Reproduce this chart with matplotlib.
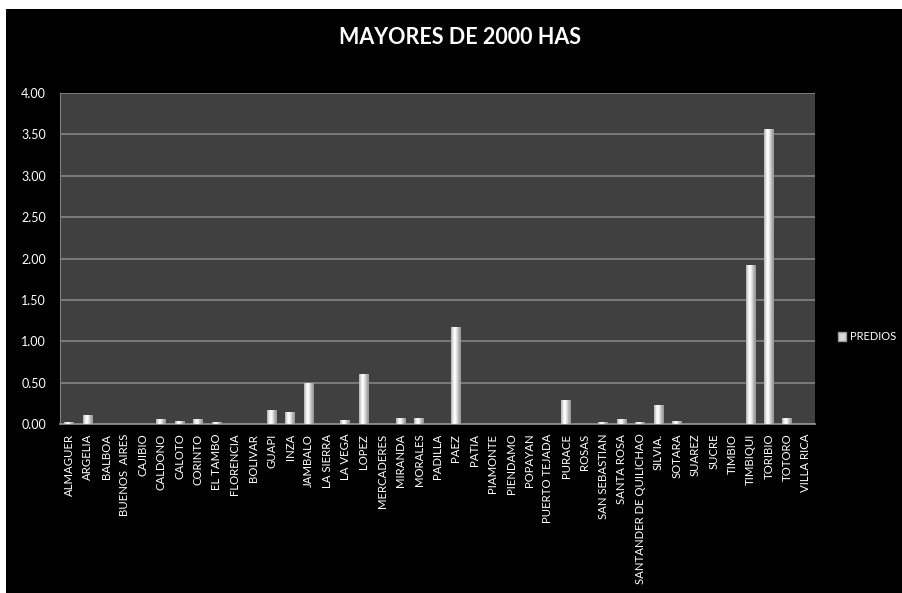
import numpy as np
import matplotlib
matplotlib.use('Agg')
import matplotlib.pyplot as plt
from matplotlib.patches import Rectangle, Patch

plt.rcParams['font.family'] = ['Lato', 'DejaVu Sans']

# data
municipios = ['ALMAGUER', 'ARGELIA', 'BALBOA', 'BUENOS  AIRES', 'CAJIBIO', 'CALDONO', 'CALOTO',
              'CORINTO', 'EL TAMBO', 'FLORENCIA', 'BOLIVAR', 'GUAPI', 'INZA', 'JAMBALO',
              'LA SIERRA', 'LA VEGA', 'LOPEZ', 'MERCADERES', 'MIRANDA', 'MORALES', 'PADILLA',
              'PAEZ', 'PATIA', 'PIAMONTE', 'PIENDAMO', 'POPAYAN', 'PUERTO TEJADA', 'PURACE',
              'ROSAS', 'SAN SEBASTIAN', 'SANTA ROSA', 'SANTANDER DE QUILICHAO', 'SILVIA.',
              'SOTARA', 'SUAREZ', 'SUCRE', 'TIMBIO', 'TIMBIQUI', 'TORIBIO', 'TOTORO', 'VILLA RICA']
predios = [0.02, 0.11, 0.0, 0.0, 0.0, 0.06, 0.04,
           0.06, 0.03, 0.0, 0.0, 0.17, 0.14, 0.49,
           0.0, 0.05, 0.60, 0.0, 0.07, 0.07, 0.0,
           1.17, 0.0, 0.0, 0.0, 0.0, 0.0, 0.29,
           0.0, 0.03, 0.06, 0.03, 0.23,
           0.04, 0.0, 0.0, 0.0, 1.92, 3.56, 0.07, 0.0]
yticks = [0.0, 0.5, 1.0, 1.5, 2.0, 2.5, 3.0, 3.5, 4.0]

W, H = 903, 593
fig = plt.figure(figsize=(W / 100, H / 100), dpi=100, facecolor='white')
# black chart area (white strip at top and left like the screenshot)
fig.patches.append(Rectangle((6 / W, 0), 1, (H - 9) / H, transform=fig.transFigure,
                             facecolor='black', edgecolor='none', zorder=-10))

ax = fig.add_axes([60 / W, (H - 424) / H, 755 / W, 331 / H])
ax.set_zorder(5)
ax.set_facecolor('#404040')

x = np.arange(len(municipios))
bars = ax.bar(x, predios, width=0.54, color='#d0d0d0', edgecolor='none', zorder=3)

# cylinder-like shading on each bar
grad = np.array([0.72, 0.85, 0.97, 1.0, 0.95, 0.85, 0.75, 0.66, 0.6]).reshape(1, -1)
for b in bars:
    if b.get_height() <= 0:
        continue
    im = ax.imshow(grad, cmap='gray', vmin=0, vmax=1, aspect='auto', interpolation='bicubic',
                   extent=(b.get_x(), b.get_x() + b.get_width(), 0, b.get_height()), zorder=4)
    im.set_clip_path(b)

ax.set_xlim(-0.5, len(municipios) - 0.5)
ax.set_ylim(0, 4)
ax.set_yticks(yticks)
ax.set_yticklabels([f'{v:.2f}' for v in yticks], color='white', fontsize=9)
ax.set_xticks(x)
ax.set_xticklabels(municipios, rotation=90, color='white', fontsize=8.2)
ax.tick_params(axis='both', length=0)
ax.tick_params(axis='y', pad=10)
ax.tick_params(axis='x', pad=7)
ax.grid(axis='y', color='#7f7f7f', linewidth=1.3, zorder=1)
ax.set_axisbelow(True)
for s in ['top', 'right']:
    ax.spines[s].set_visible(False)
ax.spines['left'].set_color('#7f7f7f')
ax.spines['bottom'].set_color('#8c8c8c')
ax.spines['bottom'].set_linewidth(1.3)

fig.text(460 / W, 1 - 37 / H, 'MAYORES DE 2000 HAS', color='white', fontsize=15.5,
         fontweight='bold', ha='center', va='center')

fig.legend(handles=[Patch(facecolor='#d9d9d9', edgecolor='#9a9a9a', label='PREDIOS')],
           loc='center left', bbox_to_anchor=(832 / W, 1 - 337 / H), frameon=False,
           labelcolor='white', fontsize=8, handlelength=0.8, handleheight=0.8,
           handletextpad=0.3, borderpad=0)

fig.savefig('out.png', dpi=100, facecolor=fig.get_facecolor())
